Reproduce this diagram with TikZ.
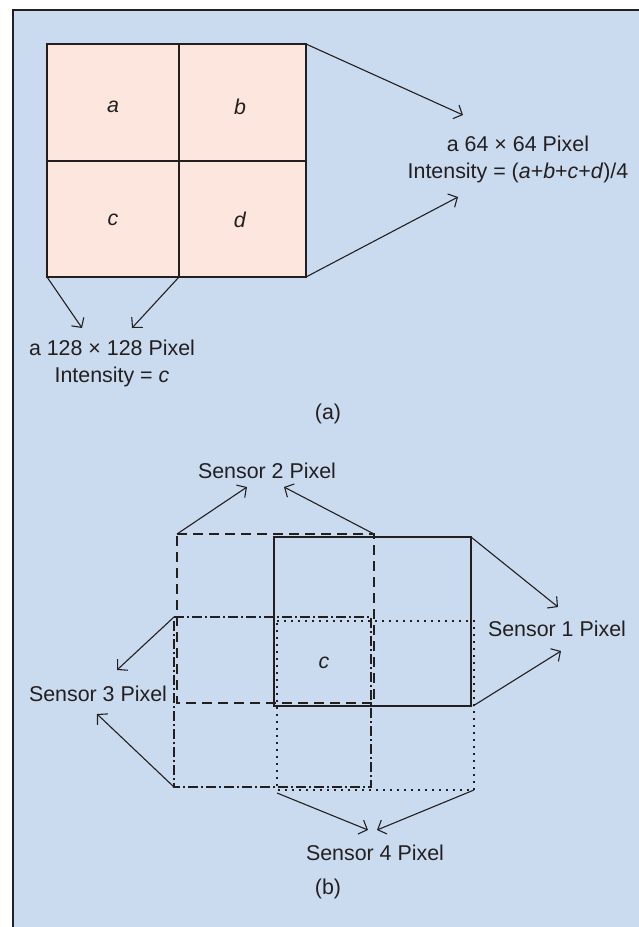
\documentclass[tikz,border=0pt]{standalone}
\usepackage{fontspec}
\setmainfont{Liberation Sans}
\usetikzlibrary{arrows.meta}
\definecolor{bgblue}{RGB}{202,219,240}
\definecolor{cellpink}{RGB}{253,230,222}
\definecolor{ink}{RGB}{35,31,32}
\begin{document}
\begin{tikzpicture}[x=1pt,y=-1pt,
  line width=1.1pt, draw=ink,
  lbl/.style={text=ink,font=\fontsize{21.4}{27}\selectfont,inner sep=0pt,align=center},
  arr/.style={draw=ink,line width=1.1pt,-{Straight Barb[length=7pt,width=15pt,line width=1.1pt]}},
  sdash/.style={draw=ink,line width=1.1pt,dash pattern=on 10pt off 6pt},
  sdashdot/.style={draw=ink,line width=1.1pt,dash pattern=on 10pt off 3pt on 2pt off 3pt},
  sdot/.style={draw=ink,line width=1.1pt,dash pattern=on 2pt off 5pt},
  ssolid/.style={draw=ink,line width=1.1pt}]
\useasboundingbox (0,0) rectangle (639,927);
\fill[white] (0,0) rectangle (639,927);
\fill[bgblue] (13,10) rectangle (639,927);
\draw[ink,line width=1.2pt] (13,927) -- (13,10) -- (639,10);

% ---------- (a) ----------
\coordinate (tl) at (47,44);
\coordinate (tm) at (179,44);
\coordinate (tr) at (306,44);
\coordinate (ml) at (47,161);
\coordinate (mr) at (306,161);
\coordinate (bl) at (47,277);
\coordinate (bm) at (179,277);
\coordinate (br) at (306,277);
\fill[cellpink] (tl) rectangle (br);
\draw[ink,line width=1.1pt] (tl) rectangle (br);
\draw[ink,line width=1.1pt] (tm) -- (bm);
\draw[ink,line width=1.1pt] (ml) -- (mr);
\node[lbl] (ca) at (113,107) {\textit{a}};
\node[lbl] (cb) at (240,107) {\textit{b}};
\node[lbl] (cc) at (113,220) {\textit{c}};
\node[lbl] (cd) at (240,220) {\textit{d}};

\node[lbl] (big) at (518,159) {a 64 × 64 Pixel\\Intensity = (\textit{a}+\textit{b}+\textit{c}+\textit{d})/4};
\coordinate (bigt1) at (463,115);
\coordinate (bigt2) at (458,197);
\draw[arr] (tr) -- (bigt1);
\draw[arr] (br) -- (bigt2);

\node[lbl] (small) at (112,363) {a 128 × 128 Pixel\\Intensity = \textit{c}};
\coordinate (smt1) at (82,328);
\coordinate (smt2) at (132,328);
\draw[arr] (bl) -- (smt1);
\draw[arr] (bm) -- (smt2);

\node[lbl] (capa) at (328,414) {(a)};

% ---------- (b) ----------
% Sensor 1 (solid)
\coordinate (s1a) at (274,537);
\coordinate (s1b) at (471,537);
\coordinate (s1c) at (471,706);
\coordinate (s1d) at (274,706);
% Sensor 2 (dashed)
\coordinate (s2a) at (177,534);
\coordinate (s2b) at (374,534);
\coordinate (s2c) at (374,703);
\coordinate (s2d) at (177,703);
% Sensor 3 (dash-dot)
\coordinate (s3a) at (174,617);
\coordinate (s3b) at (371,617);
\coordinate (s3c) at (371,787);
\coordinate (s3d) at (174,787);
% Sensor 4 (dotted)
\coordinate (s4a) at (277,621);
\coordinate (s4b) at (474,621);
\coordinate (s4c) at (474,790);
\coordinate (s4d) at (277,790);

\draw[sdash] (s2a) -- (s2b) -- (s2c) -- (s2d) -- cycle;
\draw[ssolid] (s1a) -- (s1b) -- (s1c) -- (s1d) -- cycle;
\draw[sdashdot] (s3a) -- (s3b) -- (s3c) -- (s3d) -- cycle;
\draw[sdot] (s4a) -- (s4b) -- (s4c) -- (s4d) -- cycle;

\node[lbl] (cc2) at (324,663) {\textit{c}};

\node[lbl] (sen2) at (267,471) {Sensor 2 Pixel};
\coordinate (s2t1) at (247,487);
\coordinate (s2t2) at (284,487);
\draw[arr] (s2a) -- (s2t1);
\draw[arr] (s2b) -- (s2t2);

\node[lbl] (sen1) at (557,629) {Sensor 1 Pixel};
\coordinate (s1t1) at (558,607);
\coordinate (s1t2) at (561,651);
\coordinate (s1s2) at (473,706);
\draw[arr] (s1b) -- (s1t1);
\draw[arr] (s1s2) -- (s1t2);

\node[lbl] (sen3) at (98,694) {Sensor 3 Pixel};
\coordinate (s3t1) at (117,670);
\coordinate (s3t2) at (97,714);
\draw[arr] (s3a) -- (s3t1);
\draw[arr] (s3d) -- (s3t2);

\node[lbl] (sen4) at (375,853) {Sensor 4 Pixel};
\coordinate (s4s1) at (277,793);
\coordinate (s4t1) at (368,830);
\coordinate (s4t2) at (377,830);
\draw[arr] (s4s1) -- (s4t1);
\draw[arr] (s4c) -- (s4t2);

\node[lbl] (capb) at (328,889) {(b)};
\end{tikzpicture}
\end{document}
